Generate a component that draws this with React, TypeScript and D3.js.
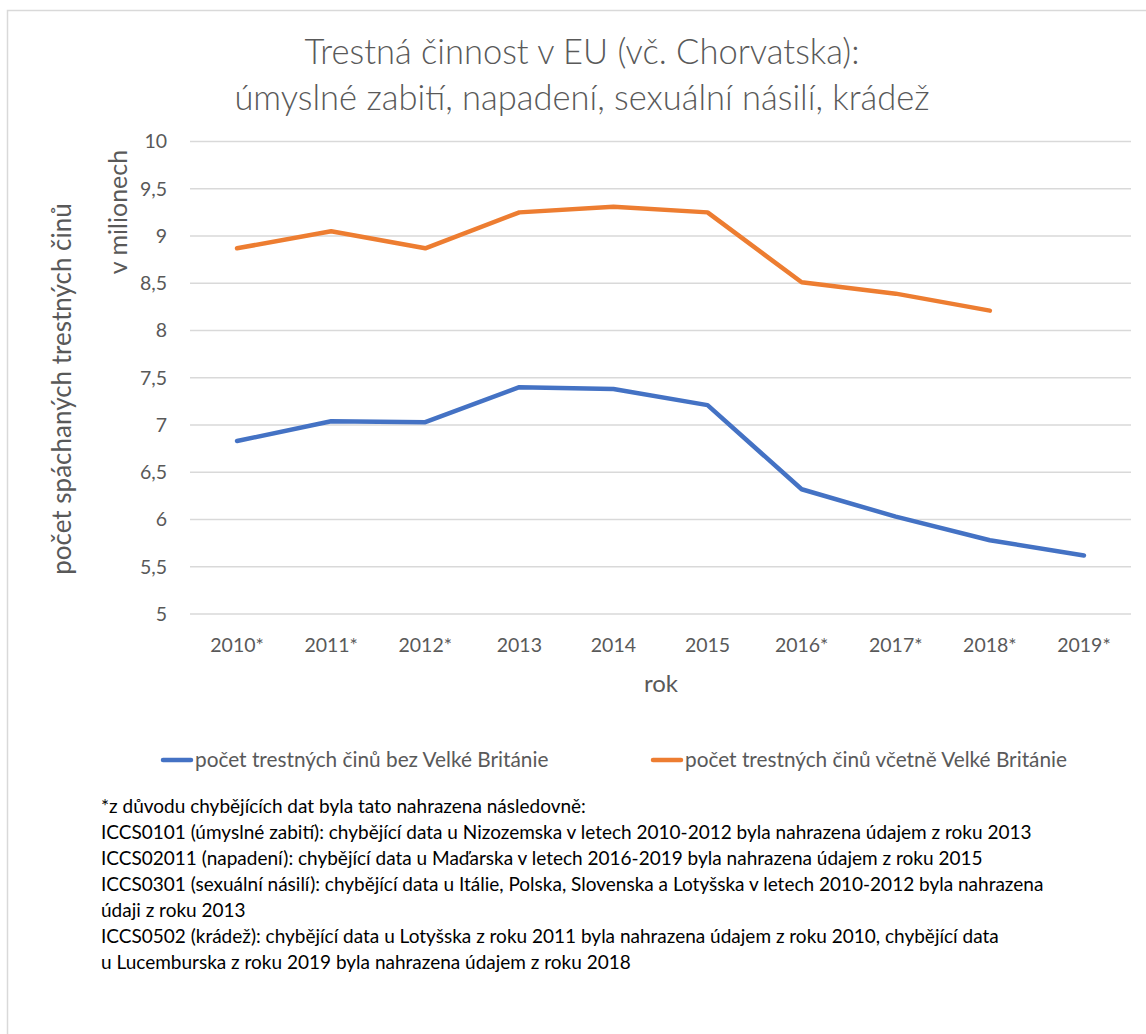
import React from "react";
import * as d3 from "d3";

const categories = ["2010*", "2011*", "2012*", "2013", "2014", "2015", "2016*", "2017*", "2018*", "2019*"];
const seriesBezUK = [6.83, 7.04, 7.03, 7.40, 7.38, 7.21, 6.32, 6.03, 5.78, 5.62];
const seriesVcUK: (number | null)[] = [8.87, 9.05, 8.87, 9.25, 9.31, 9.25, 8.51, 8.39, 8.21, null];
const yTicks = [5, 5.5, 6, 6.5, 7, 7.5, 8, 8.5, 9, 9.5, 10];
const titleLines = ["Trestná činnost v EU (vč. Chorvatska):", "úmyslné zabití, napadení, sexuální násilí, krádež"];
const legendLabels = ["počet trestných činů bez Velké Británie", "počet trestných činů včetně Velké Británie"];
const footnotes = [
  "*z důvodu chybějících dat byla tato nahrazena následovně:",
  "ICCS0101 (úmyslné zabití): chybějící data u Nizozemska v letech 2010-2012 byla nahrazena údajem z roku 2013",
  "ICCS02011 (napadení): chybějící data u Maďarska v letech 2016-2019 byla nahrazena údajem z roku 2015",
  "ICCS0301 (sexuální násilí): chybějící data u Itálie, Polska, Slovenska a Lotyšska v letech 2010-2012 byla nahrazena",
  "údaji z roku 2013",
  "ICCS0502 (krádež): chybějící data u Lotyšska z roku 2011 byla nahrazena údajem z roku 2010, chybějící data",
  "u Lucemburska z roku 2019 byla nahrazena údajem z roku 2018",
];

const FONT = "Lato, 'Open Sans', sans-serif";
const GRAY = "#595959";
const BLUE = "#4472C4";
const ORANGE = "#ED7D31";

export default function App() {
  const W = 1146, H = 1034;
  const left = 190, right = 1131, top = 141.5, bottom = 614;
  const x = d3.scaleBand<string>().domain(categories).range([left, right]);
  const y = d3.scaleLinear().domain([5, 10]).range([bottom, top]);
  const cx = (c: string) => (x(c) as number) + x.bandwidth() / 2;

  const line = d3
    .line<number | null>()
    .defined((d) => d != null)
    .x((_, i) => cx(categories[i]))
    .y((d) => y(d as number));

  return (
    <svg width={W} height={H} style={{ position: "absolute", left: 0, top: 0, display: "block", background: "#fff" }}>
      <rect x={7.5} y={10.5} width={1300} height={1200} fill="#fff" stroke="#d9d9d9" strokeWidth={1.5} />
      {titleLines.map((t, i) => (
        <text key={i} x={582} y={64 + i * 46} textAnchor="middle" fontFamily={FONT} fontSize={34.5} fontWeight={300} fill={GRAY}>
          {t}
        </text>
      ))}
      {yTicks.map((t) => (
        <g key={t}>
          <line x1={left} x2={right} y1={y(t)} y2={y(t)} stroke="#d9d9d9" strokeWidth={1.5} />
          <text x={167} y={y(t)} dy="0.35em" textAnchor="end" fontFamily={FONT} fontSize={19.5} fill={GRAY}>
            {String(t).replace(".", ",")}
          </text>
        </g>
      ))}
      {categories.map((c) => (
        <text key={c} x={cx(c)} y={645} dy="0.35em" textAnchor="middle" fontFamily={FONT} fontSize={19.5} fill={GRAY}>
          {c}
        </text>
      ))}
      <text x={661} y={684} dy="0.35em" textAnchor="middle" fontFamily={FONT} fontSize={24} fill={GRAY}>
        rok
      </text>
      <text
        transform={`translate(62,${389}) rotate(-90)`}
        dy="0.35em"
        textAnchor="middle"
        fontFamily={FONT}
        fontSize={26}
        fill={GRAY}
      >
        počet spáchaných trestných činů
      </text>
      <text
        transform={`translate(118,${212}) rotate(-90)`}
        dy="0.35em"
        textAnchor="middle"
        fontFamily={FONT}
        fontSize={25}
        fill={GRAY}
      >
        v milionech
      </text>
      <path d={line(seriesBezUK) || ""} fill="none" stroke={BLUE} strokeWidth={4.5} strokeLinecap="round" strokeLinejoin="round" />
      <path d={line(seriesVcUK) || ""} fill="none" stroke={ORANGE} strokeWidth={4.5} strokeLinecap="round" strokeLinejoin="round" />
      {[BLUE, ORANGE].map((col, i) => {
        const lx = i === 0 ? 163 : 653;
        return (
          <g key={i}>
            <line x1={lx} x2={lx + 28} y1={760} y2={760} stroke={col} strokeWidth={4.5} strokeLinecap="round" />
            <text x={lx + 32} y={760} dy="0.35em" fontFamily={FONT} fontSize={20.8} fill={GRAY}>
              {legendLabels[i]}
            </text>
          </g>
        );
      })}
      {footnotes.map((f, i) => (
        <text key={i} x={101} y={806 + i * 26} dy="0.35em" fontFamily={FONT} fontSize={19} fill="#000">
          {f}
        </text>
      ))}
    </svg>
  );
}
